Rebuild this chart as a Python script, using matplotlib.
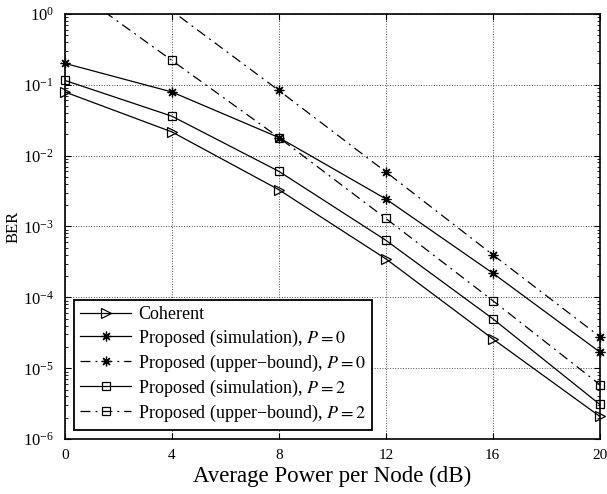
import numpy as np
import matplotlib
matplotlib.use('Agg')
import matplotlib.pyplot as plt
from matplotlib.ticker import LogLocator, NullFormatter

plt.rcParams['font.family'] = ['Liberation Serif', 'DejaVu Serif']
plt.rcParams['mathtext.fontset'] = 'stix'

# Datos
snr = [0, 4, 8, 12, 16, 20]
coherente = [0.079, 0.0216, 0.0033, 3.5e-4, 2.6e-5, 2.1e-6]
sim_p0 = [0.2, 0.079, 0.018, 0.00245, 2.2e-4, 1.7e-5]
cota_p0 = [4.0, 1.1, 0.083, 0.0059, 4.0e-4, 2.8e-5]
sim_p2 = [0.115, 0.036, 0.006, 6.4e-4, 5.0e-5, 3.1e-6]
cota_p2 = [2.7, 0.22, 0.018, 0.0013, 9.0e-5, 5.9e-6]

asterisco = (8, 2, 0)
series = [
    (coherente, 'solid', '>', 7, 'Coherent'),
    (sim_p0, 'solid', asterisco, 7, 'Proposed (simulation), $P = 0$'),
    (cota_p0, 'dashdot', asterisco, 7, 'Proposed (upper\u2212bound), $P = 0$'),
    (sim_p2, 'solid', 's', 6, 'Proposed (simulation), $P = 2$'),
    (cota_p2, 'dashdot', 's', 6, 'Proposed (upper\u2212bound), $P = 2$'),
]

fig = plt.figure(figsize=(6.07, 4.94), dpi=100)
ax = fig.add_axes([0.107, 0.111, 0.881, 0.861])

ymin, ymax = 1e-6, 1
for datos, estilo, marca, tam, etiqueta in series:
    d = np.array(datos)
    linea, = ax.plot(snr, d, color='black', linewidth=0.9,
                     marker=marca, markersize=tam, markerfacecolor='none',
                     markeredgecolor='black', markeredgewidth=0.9, label=etiqueta,
                     markevery=[i for i in range(len(d)) if d[i] > 1.2])
    if estilo == 'dashdot':
        linea.set_dashes((8, 4, 1.5, 4))
    # marcadores visibles sin recortar en los bordes
    dentro = (d >= ymin) & (d <= ymax)
    ax.plot(np.array(snr)[dentro], d[dentro], linestyle='none', marker=marca,
            markersize=tam, markerfacecolor='none', markeredgecolor='black',
            markeredgewidth=0.9, clip_on=False)

ax.set_yscale('log')
ax.set_xlim(0, 20)
ax.set_ylim(ymin, ymax)
ax.set_xticks([0, 4, 8, 12, 16, 20])
ax.yaxis.set_major_locator(LogLocator(base=10, numticks=10))
ax.yaxis.set_minor_locator(LogLocator(base=10, subs=np.arange(2, 10), numticks=20))
ax.yaxis.set_minor_formatter(NullFormatter())
ax.tick_params(which='both', direction='in', top=True, right=True, labelsize=11)
ax.tick_params(axis='y', which='major', pad=8, labelsize=12)
ax.tick_params(axis='x', which='major', pad=7)
ax.tick_params(which='major', length=4)
ax.tick_params(which='minor', length=2)
ax.grid(True, which='major', linestyle=':', color='black', linewidth=0.7, alpha=0.7)
for s in ax.spines.values():
    s.set_linewidth(1.2)

ax.set_xlabel('Average Power per Node (dB)', fontsize=16.5, labelpad=3)
ax.set_ylabel('BER', fontsize=12, labelpad=1)

leg = ax.legend(loc='lower left', fontsize=13, handlelength=2.8,
                fancybox=False, framealpha=1, edgecolor='black',
                borderaxespad=0.5, labelspacing=0.22, handletextpad=0.4,
                borderpad=0.35)
leg.get_frame().set_linewidth(1.3)

fig.savefig('out.png', dpi=100)
